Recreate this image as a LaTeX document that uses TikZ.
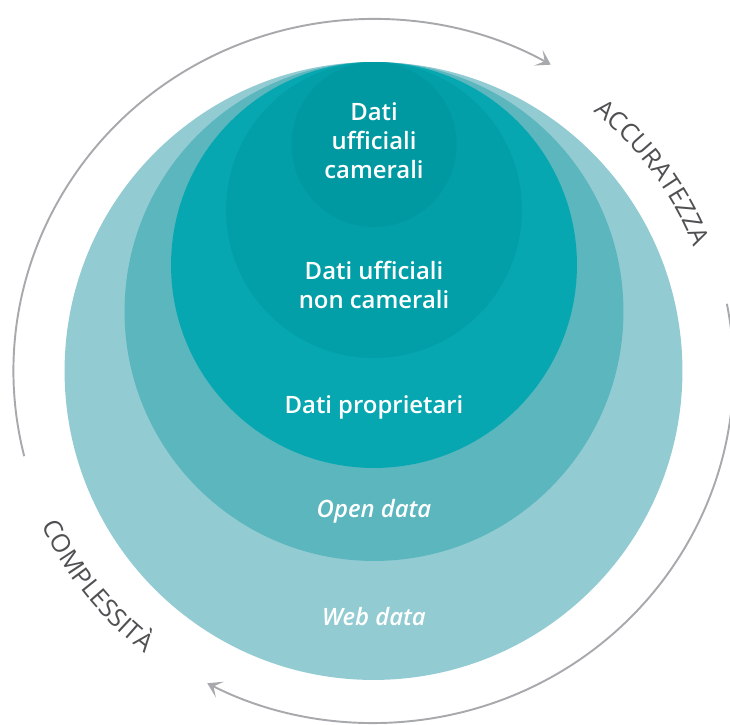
\documentclass[tikz,border=0pt]{standalone}
\usepackage{fontspec}
\setmainfont{Open Sans}
\newfontfamily\semibold{Open Sans Semibold}
\usetikzlibrary{arrows.meta, positioning, decorations.text}
\definecolor{webcol}{HTML}{93CBD3}
\definecolor{opencol}{HTML}{5BB6BE}
\definecolor{propcol}{HTML}{06A7B1}
\definecolor{noncamcol}{HTML}{029FA8}
\definecolor{camcol}{HTML}{0099A2}
\definecolor{arcgray}{HTML}{A7A9AC}
\definecolor{labelgray}{HTML}{4F5052}
\newcommand{\arcfont}{\fontsize{14.4}{16}\selectfont\color{labelgray}}
\tikzset{%
	ring/.style={
		circle,
		inner sep=0pt,
		draw=none
	},
	ring label/.style={
		text=white,
		align=center,
		font=\semibold\fontsize{13.6}{16.5}\selectfont
	},
	side arc/.style={
		draw=arcgray,
		line width=1.1pt
	},
}
\begin{document}
\begin{tikzpicture}[x=0.02cm, y=0.02cm]
				\useasboundingbox (0,0) rectangle (730,724);
				% Nested circles
				\node[ring, fill=webcol, minimum size=12.36cm] (web) at (373.5,353) {};
				\node[ring, fill=opencol, minimum size=9.98cm] (open) at (374,412.5) {};
				\node[ring, fill=propcol, minimum size=8.12cm] (prop) at (374,459) {};
				\node[ring, fill=noncamcol, minimum size=5.92cm] (noncam) at (374,514) {};
				\node[ring, fill=camcol, minimum size=3.3cm] (cam) at (374,579.5) {};
				% Labels
				\node[ring label] (cam-label) at (374,583.5) {Dati\\ufficiali\\camerali};
				\node[ring label] (noncam-label) at (374,439.5) {Dati ufficiali\\non camerali};
				\node[ring label, anchor=base] (prop-label) at (374,311) {Dati proprietari};
				\node[ring label, anchor=base, font=\semibold\fontsize{13.6}{16.5}\selectfont\itshape] (open-label) at (374,207) {Open data};
				\node[ring label, anchor=base, font=\semibold\fontsize{13.6}{16.5}\selectfont\itshape] (web-label) at (374,99) {Web data};
				% Side arcs
				\coordinate (mid) at (373.5,353);
				\draw[side arc, -{Stealth[length=8pt, width=10pt, inset=4pt]}] (mid) ++(194:360 and 352)
					arc[start angle=194, end angle=60.5, x radius=360, y radius=352];
				\draw[side arc, -{Stealth[length=8pt, width=10pt, inset=4pt]}] (mid) ++(11:360 and 352)
					arc[start angle=11, end angle=-117.5, x radius=360, y radius=352];
				% Side texts
				\path[decorate, decoration={text along path, text align=center,
					text={|\arcfont|ACCURATEZZA}}]
					(mid) ++(52:345 and 337) arc[start angle=52, end angle=20, x radius=345, y radius=337];
				\path[decorate, decoration={text along path, text align=center,
					text={|\arcfont|COMPLESSITÀ}}]
					(mid) ++(200:368 and 360) arc[start angle=200, end angle=237, x radius=368, y radius=360];
			\end{tikzpicture}
\end{document}
